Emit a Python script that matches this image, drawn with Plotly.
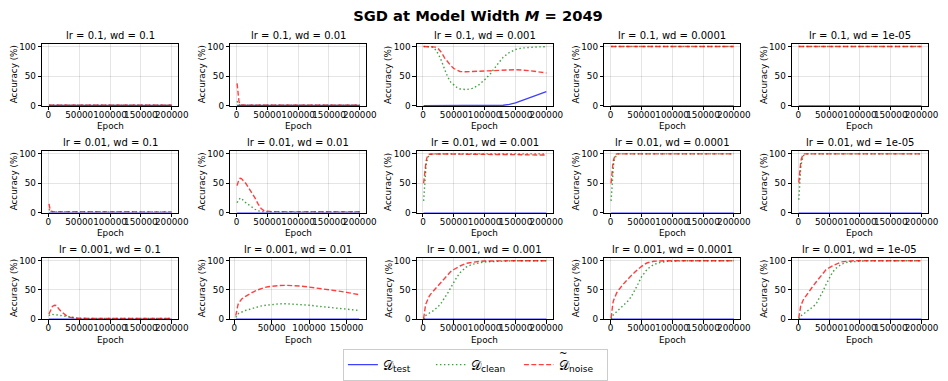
import plotly.graph_objects as go

W, H = 948, 381

# ---------------- data ----------------
LRS = ["0.1", "0.01", "0.001"]
WDS = ["0.1", "0.01", "0.001", "0.0001", "1e-05"]

X_TICKS = [0, 50000, 100000, 150000, 200000]
X_TICK_TEXT = ["0", "50000", "100000", "150000", "200000"]
Y_TICKS = [0, 50, 100]

EPOCHS_FINE = [1000, 2000, 3000, 4000, 5000, 6000, 8000, 10000, 12500, 15000,
               17500, 20000, 25000, 30000, 35000, 40000, 45000, 50000, 55000, 60000,
               70000, 80000, 90000, 100000, 110000, 120000, 130000, 140000, 150000, 160000,
               170000, 180000, 190000, 200000]
EPOCHS_COARSE = [1000, 50000, 100000, 150000, 200000]
EPOCHS_SHORT = [2000, 3000, 4000, 5000, 6000, 8000, 10000, 12500, 15000, 17500,
                20000, 25000, 30000, 35000, 40000, 45000, 50000, 55000, 60000, 70000,
                80000, 90000, 100000, 110000, 120000, 130000, 140000, 150000, 160000, 167000]
EPOCHS_SHORT_COARSE = [2000, 50000, 100000, 150000, 167000]

# lr = 0.1, wd = 0.1
test_p1 = [0.8, 0.8, 0.8, 0.8, 0.8]
clean_p1 = [1.1, 1.1, 1.1, 1.1, 1.1]
noise_p1 = [1.3, 1.3, 1.3, 1.3, 1.3]
# lr = 0.1, wd = 0.01
test_p2 = [0.8, 0.8, 0.8, 0.8, 0.8]
clean_p2 = [8, 5, 3, 2, 1.5, 1.3, 1.1, 1.1, 1.1, 1.1,
            1.1, 1.1, 1.1, 1.1, 1.1, 1.1, 1.1, 1.1, 1.1, 1.1,
            1.1, 1.1, 1.1, 1.1, 1.1, 1.1, 1.1, 1.1, 1.1, 1.1,
            1.1, 1.1, 1.1, 1.1]
noise_p2 = [38, 25, 14, 8, 5, 3.5, 2.0, 1.5, 1.3, 1.2,
            1.2, 1.2, 1.2, 1.2, 1.2, 1.2, 1.2, 1.2, 1.2, 1.2,
            1.2, 1.2, 1.2, 1.2, 1.2, 1.2, 1.2, 1.2, 1.2, 1.2,
            1.2, 1.2, 1.2, 1.2]
# lr = 0.1, wd = 0.001
test_p3 = [0.2, 0.2, 0.2, 0.2, 0.2, 0.2, 0.2, 0.2, 0.2, 0.2,
           0.2, 0.2, 0.2, 0.2, 0.2, 0.2, 0.2, 0.2, 0.2, 0.2,
           0.2, 0.2, 0.2, 0.3, 0.3, 0.5, 1.0, 2.5, 5.0, 9.0,
           13, 17, 20.5, 24]
clean_p3 = [100, 100, 100, 100, 100, 100, 100, 100, 100, 99.5,
            98, 95, 87, 76, 62, 49, 40, 35, 31, 28.5,
            27.5, 29.5, 35, 44, 55, 69, 82, 90, 95, 97.5,
            98.5, 99, 99.5, 99.7]
noise_p3 = [100, 100, 100, 100, 100, 100, 100, 100, 100, 100,
            100, 99, 96, 90, 81, 74, 68, 63, 60, 58,
            57.5, 58, 58.5, 59, 59.5, 60, 60.5, 61, 61, 60.5,
            60, 58.5, 57, 55.5]
# lr = 0.1, wd = 0.0001
test_p4 = [0, 0, 0, 0, 0]
clean_p4 = [100, 100, 100, 100, 100]
noise_p4 = [100, 100, 100, 100, 100]
# lr = 0.1, wd = 1e-05
test_p5 = [0, 0, 0, 0, 0]
clean_p5 = [100, 100, 100, 100, 100]
noise_p5 = [100, 100, 100, 100, 100]

# lr = 0.01, wd = 0.1
test_p6 = [0, 0, 0, 0, 0]
clean_p6 = [6, 4, 2.5, 1.8, 1.5, 1.3, 1.2, 1.2, 1.2, 1.2,
            1.2, 1.2, 1.2, 1.2, 1.2, 1.2, 1.2, 1.2, 1.2, 1.2,
            1.2, 1.2, 1.2, 1.2, 1.2, 1.2, 1.2, 1.2, 1.2, 1.2,
            1.2, 1.2, 1.2, 1.2]
noise_p6 = [15, 8, 4, 2.5, 2, 1.7, 1.5, 1.5, 1.5, 1.5,
            1.5, 1.5, 1.5, 1.5, 1.5, 1.5, 1.5, 1.5, 1.5, 1.5,
            1.5, 1.5, 1.5, 1.5, 1.5, 1.5, 1.5, 1.5, 1.5, 1.5,
            1.4, 1.4, 1.3, 1.3]
# lr = 0.01, wd = 0.01
test_p7 = [0, 0, 0, 0, 0]
clean_p7 = [17, 19, 21, 23, 24.5, 25, 24, 21.5, 19, 17,
            15, 13, 9, 6, 3, 1.5, 1.2, 1.1, 1.1, 1.1,
            1.1, 1.1, 1.1, 1.1, 1.1, 1.1, 1.1, 1.1, 1.1, 1.1,
            1.1, 1.1, 1.1, 1.1]
noise_p7 = [46, 51, 54, 56.5, 58, 58.5, 58, 56, 53.5, 50,
            46, 42, 34, 25, 15, 7, 3, 2, 1.8, 1.7,
            1.6, 1.6, 1.6, 1.6, 1.6, 1.6, 1.6, 1.6, 1.6, 1.6,
            1.5, 1.5, 1.4, 1.4]
# lr = 0.01, wd = 0.001
test_p8 = [0, 0, 0, 0, 0]
clean_p8 = [20, 40, 58, 70, 80, 87, 95, 98.5, 99.5, 100,
            100, 100, 100, 100, 100, 100, 100, 100, 100, 100,
            100, 100, 100, 100, 100, 100, 100, 100, 100, 100,
            100, 100, 100, 100]
noise_p8 = [50, 62, 72, 80, 87, 92, 98, 99.5, 100, 100,
            100, 100, 100, 100, 100, 100, 100, 100, 100, 100,
            100, 99.8, 99.6, 99.5, 99.3, 99.2, 99, 98.9, 98.8, 98.6,
            98.4, 98.2, 98.1, 98]
# lr = 0.01, wd = 0.0001
test_p9 = [0, 0, 0, 0, 0]
clean_p9 = [20, 42, 60, 73, 82, 89, 96, 99, 100, 100,
            100, 100, 100, 100, 100, 100, 100, 100, 100, 100,
            100, 100, 100, 100, 100, 100, 100, 100, 100, 100,
            100, 100, 100, 100]
noise_p9 = [50, 65, 76, 84, 90, 94, 99, 100, 100, 100,
            100, 100, 100, 100, 100, 100, 100, 100, 100, 100,
            100, 100, 100, 100, 100, 100, 100, 100, 100, 100,
            100, 100, 100, 100]
# lr = 0.01, wd = 1e-05
test_p10 = [0, 0, 0, 0, 0]
clean_p10 = [22, 44, 61, 74, 83, 89, 96, 99, 100, 100,
             100, 100, 100, 100, 100, 100, 100, 100, 100, 100,
             100, 100, 100, 100, 100, 100, 100, 100, 100, 100,
             100, 100, 100, 100]
noise_p10 = [51, 66, 77, 85, 91, 95, 99, 100, 100, 100,
             100, 100, 100, 100, 100, 100, 100, 100, 100, 100,
             100, 100, 100, 100, 100, 100, 100, 100, 100, 100,
             100, 100, 100, 100]

# lr = 0.001, wd = 0.1
test_p11 = [0, 0, 0, 0, 0]
clean_p11 = [6, 8, 8.5, 8.5, 8.5, 8.4, 8.2, 8, 7.6, 7.2,
             6.8, 6.2, 5, 3.8, 2.8, 2, 1.6, 1.4, 1.3, 1.3,
             1.2, 1.2, 1.2, 1.2, 1.2, 1.2, 1.2, 1.2, 1.2, 1.2,
             1.2, 1.2, 1.2, 1.2]
noise_p11 = [9, 12, 15, 17, 19, 21, 23, 24, 23.5, 21,
             17, 14, 9, 5.5, 3.5, 2.2, 1.8, 1.6, 1.5, 1.5,
             1.5, 1.5, 1.5, 1.5, 1.5, 1.5, 1.5, 1.5, 1.5, 1.5,
             1.4, 1.4, 1.3, 1.3]
# lr = 0.001, wd = 0.01 (shorter run)
test_p12 = [0, 0, 0, 0, 0]
clean_p12 = [3, 6, 8, 9, 10, 11.5, 12.5, 13.6, 15, 16,
             17, 19, 21, 22.5, 23.5, 24.3, 25, 25.8, 26.3, 26.5,
             26, 25, 24, 22.5, 21, 19.8, 18.5, 17.4, 16, 15]
noise_p12 = [6, 15, 21, 25, 28, 32, 34.5, 37, 39, 41,
             43, 46.5, 49.5, 52, 54, 55.5, 56.5, 57.2, 57.7, 58,
             57.5, 56.5, 55, 53.5, 51.5, 49.5, 48, 46, 43.5, 42]
# lr = 0.001, wd = 0.001
test_p13 = [0, 0, 0, 0, 0]
clean_p13 = [0, 3, 5, 6, 7, 7.8, 9, 10.5, 12, 13.5,
             15, 17, 22, 28.5, 36, 44.5, 54, 64, 72, 79.5,
             89, 94, 96.5, 97.8, 98.6, 99.2, 99.5, 99.7, 100, 100,
             100, 100, 100, 100]
noise_p13 = [1, 12, 19, 23, 27, 30, 35, 39, 43, 46,
             49, 52, 57.5, 64, 70.5, 76.5, 81.5, 85, 88.5, 91,
             95.5, 97.5, 98.8, 99.5, 99.8, 100, 100, 100, 100, 100,
             100, 100, 100, 100]
# lr = 0.001, wd = 0.0001
test_p14 = [0, 0, 0, 0, 0]
clean_p14 = [0, 3, 5, 6.5, 8, 9, 11, 13, 15, 17.5,
             20, 22, 27, 33, 41, 50, 61, 72, 80, 86,
             93.5, 97, 98.8, 99.5, 99.8, 100, 100, 100, 100, 100,
             100, 100, 100, 100]
noise_p14 = [2, 15, 23, 28, 32, 35, 41, 45, 49, 53,
             56, 59, 65, 71, 76, 81, 86, 90, 94, 96.5,
             99, 99.8, 100, 100, 100, 100, 100, 100, 100, 100,
             100, 100, 100, 100]
# lr = 0.001, wd = 1e-05
test_p15 = [0, 0, 0, 0, 0]
clean_p15 = [0, 2, 4, 5, 6, 7, 8.7, 10.5, 12.5, 14,
             15.8, 17.5, 22, 28, 37, 47.5, 59, 70.5, 79, 86,
             94, 97.5, 98.8, 99.4, 99.7, 99.9, 100, 100, 100, 100,
             100, 100, 100, 100]
noise_p15 = [2, 12, 18, 22, 25, 28, 32.5, 36, 40, 44,
             47.5, 50.5, 58, 65, 72, 79.5, 84.5, 88, 91, 93.5,
             98, 99.5, 100, 100, 100, 100, 100, 100, 100, 100,
             100, 100, 100, 100]

# (test epochs, test), (clean epochs, clean), (noise epochs, noise) per panel
PANELS = [
    ((EPOCHS_COARSE, test_p1), (EPOCHS_COARSE, clean_p1), (EPOCHS_COARSE, noise_p1)),
    ((EPOCHS_COARSE, test_p2), (EPOCHS_FINE, clean_p2), (EPOCHS_FINE, noise_p2)),
    ((EPOCHS_FINE, test_p3), (EPOCHS_FINE, clean_p3), (EPOCHS_FINE, noise_p3)),
    ((EPOCHS_COARSE, test_p4), (EPOCHS_COARSE, clean_p4), (EPOCHS_COARSE, noise_p4)),
    ((EPOCHS_COARSE, test_p5), (EPOCHS_COARSE, clean_p5), (EPOCHS_COARSE, noise_p5)),
    ((EPOCHS_COARSE, test_p6), (EPOCHS_FINE, clean_p6), (EPOCHS_FINE, noise_p6)),
    ((EPOCHS_COARSE, test_p7), (EPOCHS_FINE, clean_p7), (EPOCHS_FINE, noise_p7)),
    ((EPOCHS_COARSE, test_p8), (EPOCHS_FINE, clean_p8), (EPOCHS_FINE, noise_p8)),
    ((EPOCHS_COARSE, test_p9), (EPOCHS_FINE, clean_p9), (EPOCHS_FINE, noise_p9)),
    ((EPOCHS_COARSE, test_p10), (EPOCHS_FINE, clean_p10), (EPOCHS_FINE, noise_p10)),
    ((EPOCHS_COARSE, test_p11), (EPOCHS_FINE, clean_p11), (EPOCHS_FINE, noise_p11)),
    ((EPOCHS_SHORT_COARSE, test_p12), (EPOCHS_SHORT, clean_p12), (EPOCHS_SHORT, noise_p12)),
    ((EPOCHS_COARSE, test_p13), (EPOCHS_FINE, clean_p13), (EPOCHS_FINE, noise_p13)),
    ((EPOCHS_COARSE, test_p14), (EPOCHS_FINE, clean_p14), (EPOCHS_FINE, noise_p14)),
    ((EPOCHS_COARSE, test_p15), (EPOCHS_FINE, clean_p15), (EPOCHS_FINE, noise_p15)),
]

SERIES_NAMES = ["𝒟<sub>test</sub>", "𝒟<sub>clean</sub>", "𝒟<sub>noise</sub>"]
SERIES_COLORS = ["rgba(0,0,255,0.75)", "rgba(0,128,0,0.75)", "rgba(255,0,0,0.75)"]
SERIES_DASH = ["solid", "1.5px,2.5px", "5px,2.4px"]

# ---------------- layout geometry (pixels) ----------------
COL_LEFT = [42.7, 233.0, 421.7, 611.4, 801.3]
COL_W = 137.3
ROW_TOP = [42.7, 153.0, 262.7]
ROW_BOT = [106.7, 216.3, 325.8]

LEGEND_CX = 481
LEGEND_TOP = 356
LEGEND_ENTRY_W = 43
LEGEND_PITCH = LEGEND_ENTRY_W + 45

FONT = "DejaVu Sans"

def px_x(p):
    return p / W

def px_y(p):
    return 1 - p / H

fig = go.Figure()
annotations = []
layout_axes = {}

for k, series in enumerate(PANELS):
    r, c = divmod(k, 5)
    ax = "" if k == 0 else str(k + 1)
    xref, yref = "x" + ax, "y" + ax
    for s, (ep, vals) in enumerate(series):
        fig.add_trace(go.Scatter(
            x=ep, y=vals, mode="lines", name=SERIES_NAMES[s],
            legendgroup=str(s), showlegend=(k == 0),
            line=dict(color=SERIES_COLORS[s], width=1.4, dash=SERIES_DASH[s]),
            xaxis=xref, yaxis=yref, hoverinfo="skip",
        ))
    x0, x1 = COL_LEFT[c], COL_LEFT[c] + COL_W
    y0, y1 = ROW_TOP[r], ROW_BOT[r]
    if k == 11:
        xrange = [-5300, 176000]
    else:
        xrange = [-10000, 210000]
    common = dict(showline=True, mirror=True, linecolor="black", linewidth=1,
                  ticks="outside", ticklen=3.5, tickwidth=0.8, tickcolor="black",
                  showgrid=True, gridcolor="rgba(0,0,0,0.1)", gridwidth=0.8,
                  zeroline=False, tickfont=dict(family=FONT, size=8.8, color="black"),
                  fixedrange=True)
    layout_axes["xaxis" + ax] = dict(
        domain=[px_x(x0), px_x(x1)], anchor=yref, range=xrange,
        tickmode="array", tickvals=X_TICKS, ticktext=X_TICK_TEXT, tickangle=0,
        ticklabelstandoff=-3, **common)
    layout_axes["yaxis" + ax] = dict(
        domain=[px_y(y1), px_y(y0)], anchor=xref, range=[0, 105],
        tickmode="array", tickvals=Y_TICKS, **common)
    # subplot title
    annotations.append(dict(
        text=f"lr = {LRS[r]}, wd = {WDS[c]}", xref="paper", yref="paper",
        x=px_x((x0 + x1) / 2), y=px_y(y0), xanchor="center", yanchor="bottom",
        yshift=1, showarrow=False, font=dict(family=FONT, size=10, color="black")))
    # x label
    annotations.append(dict(
        text="Epoch", xref="paper", yref="paper",
        x=px_x((x0 + x1) / 2), y=px_y(y1 + 21), xanchor="center", yanchor="middle",
        showarrow=False, font=dict(family=FONT, size=8.8, color="black")))
    # y label
    annotations.append(dict(
        text="Accuracy (%)", xref="paper", yref="paper", textangle=-90,
        x=px_x(x0 - 29), y=px_y((y0 + y1) / 2), xanchor="center", yanchor="middle",
        showarrow=False, font=dict(family=FONT, size=8.8, color="black")))

# tilde accent over the D of the third legend entry (noise set)
legend_left = LEGEND_CX - 1.5 * LEGEND_PITCH - 4
annotations.append(dict(
    text="~", xref="paper", yref="paper",
    x=px_x(legend_left + 2 * LEGEND_PITCH + 49), y=px_y(LEGEND_TOP + 5),
    xanchor="center", yanchor="middle", showarrow=False,
    font=dict(family=FONT, size=10, color="black")))

fig.update_layout(**layout_axes)
fig.update_layout(
    width=W, height=H, margin=dict(l=0, r=0, t=0, b=0),
    paper_bgcolor="white", plot_bgcolor="white",
    font=dict(family=FONT, color="black"),
    annotations=annotations,
    title=dict(text="<b>SGD at Model Width <i>M</i> = 2049</b>",
               x=px_x(478), xanchor="center", y=px_y(15.5), yanchor="middle",
               font=dict(family=FONT, size=14.7, color="black")),
    legend=dict(orientation="h", x=px_x(LEGEND_CX), xanchor="center",
                y=px_y(LEGEND_TOP), yanchor="top", bgcolor="white",
                bordercolor="#cccccc", borderwidth=1,
                entrywidth=LEGEND_ENTRY_W, entrywidthmode="pixels",
                font=dict(family=FONT, size=13, color="black")),
    showlegend=True,
)

fig.write_html("out.html")
